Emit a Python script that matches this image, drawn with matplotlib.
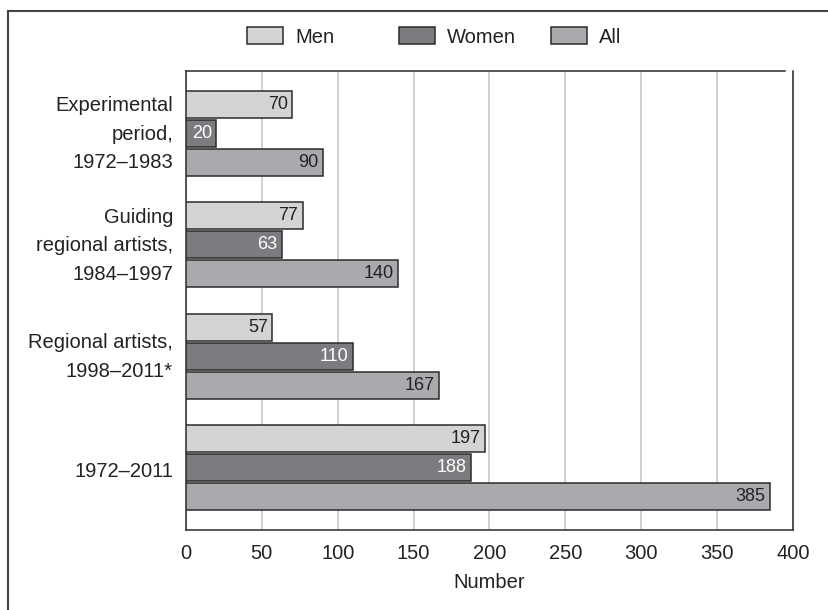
import matplotlib
matplotlib.use("Agg")
import matplotlib.pyplot as plt
from matplotlib.lines import Line2D
from matplotlib.patches import Patch
import numpy as np

plt.rcParams['font.family'] = ['Liberation Sans', 'DejaVu Sans']

categories = ['Experimental\nperiod,\n1972\u20131983',
              'Guiding\nregional artists,\n1984\u20131997',
              'Regional artists,\n1998\u20132011*',
              '1972\u20132011']
men = [70, 77, 57, 197]
women = [20, 63, 110, 188]
all_ = [90, 140, 167, 385]
series_names = ['Men', 'Women', 'All']
colors = ['#d3d4d6', '#7b7c7f', '#a9aaad']
label_colors = ['#222222', 'white', '#222222']

fs = 14.5
fig = plt.figure(figsize=(8.29, 6.10), dpi=100)
ax = fig.add_axes([186 / 829, 80 / 610, 607 / 829, 459 / 610])

y = np.arange(len(categories))
offsets = [-0.26, 0.0, 0.26]
h = 0.245
for vals, off, col, lc, name in zip([men, women, all_], offsets, colors, label_colors, series_names):
    bars = ax.barh(y + off, vals, height=h, color=col, edgecolor='#2b2b2b',
                   linewidth=1.1, zorder=3, label=name)
    for b, v in zip(bars, vals):
        ax.text(b.get_width() - 3, b.get_y() + b.get_height() / 2, str(v),
                ha='right', va='center', fontsize=13, color=lc, zorder=4)

ax.set_xlim(0, 400)
ax.set_ylim(3.56, -0.56)
ax.set_xticks(np.arange(0, 401, 50))
ax.set_yticks(y)
ax.set_yticklabels([])
ax.tick_params(axis='x', length=0, pad=10, labelsize=fs, labelcolor='#222222')
ax.tick_params(axis='y', length=0)
ax.xaxis.grid(True, color='#c4c4c4', linewidth=1.1, zorder=0)
ax.set_axisbelow(True)
ax.set_xlabel('Number', fontsize=fs, color='#222222', labelpad=7)

# category labels, centred on each group
for i, cat in enumerate(categories):
    dy = -1 if '\n' in cat else -4
    ax.annotate(cat, xy=(0, i), xycoords=('axes fraction', 'data'),
                xytext=(-13, dy), textcoords='offset pixels', ha='right', va='center',
                fontsize=fs, linespacing=1.63, color='#222222')

for s in ['left', 'bottom', 'right']:
    ax.spines[s].set_color('#2b2b2b')
    ax.spines[s].set_linewidth(1.1)
ax.spines['top'].set_visible(False)
ax.add_line(Line2D([0, 0.987], [1, 1], transform=ax.transAxes, color='#2b2b2b',
                   linewidth=1.1, clip_on=False))

# legend entries placed one by one so the patches are evenly spaced
legend_x = [247, 399, 551]
for name, col, lx in zip(series_names, colors, legend_x):
    leg = fig.legend([Patch(facecolor=col, edgecolor='#2b2b2b', linewidth=1.1)], [name],
                     loc='center left', bbox_to_anchor=(lx / 829, 1 - 37 / 610),
                     frameon=False, fontsize=fs, handlelength=1.8, handleheight=0.85,
                     handletextpad=0.6, borderpad=0, borderaxespad=0)
    for t in leg.get_texts():
        t.set_color('#222222')

# figure border (top and left)
fig.add_artist(Line2D([8.5 / 829, 8.5 / 829], [0, 1 - 10.5 / 610], transform=fig.transFigure,
                      color='#444444', linewidth=1.5))
fig.add_artist(Line2D([8.5 / 829, 1], [1 - 10.5 / 610, 1 - 10.5 / 610], transform=fig.transFigure,
                      color='#444444', linewidth=1.5))

fig.savefig('out.png', dpi=100)
